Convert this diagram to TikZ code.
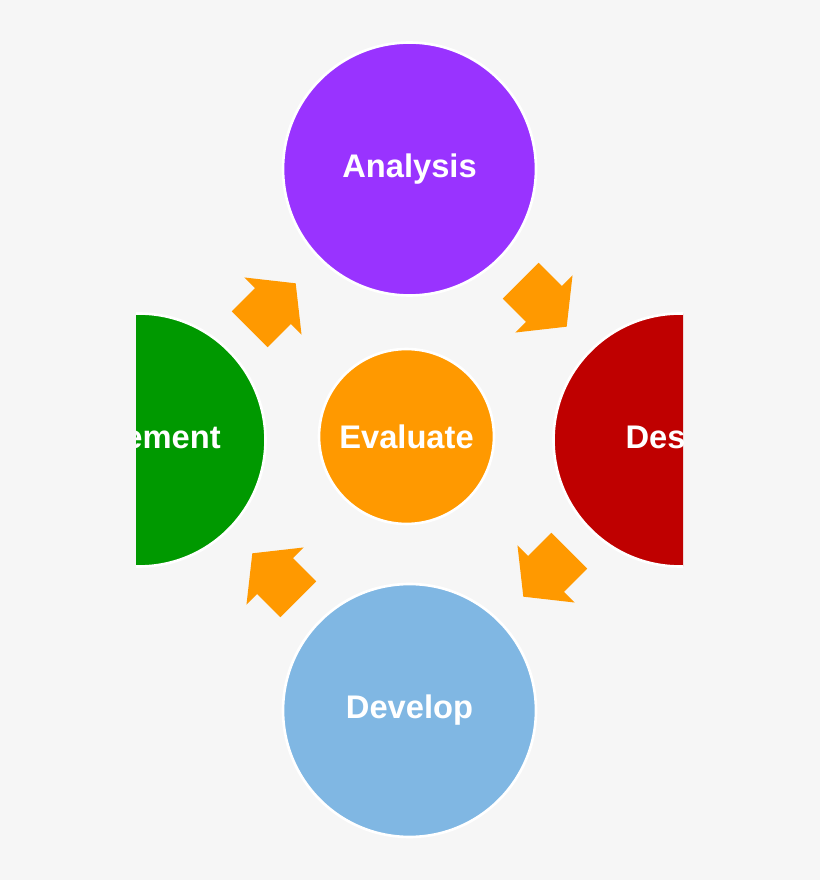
\documentclass[tikz,border=0pt]{standalone}
\usepackage{fontspec}
\setmainfont{Liberation Sans}
\usetikzlibrary{shapes.arrows}
\definecolor{fond}{HTML}{F6F6F6}
\definecolor{violet1}{HTML}{9933FF}
\definecolor{rouge}{HTML}{BF0000}
\definecolor{vert}{HTML}{009900}
\definecolor{bleu}{HTML}{80B7E3}
\definecolor{orangef}{HTML}{FF9900}
\begin{document}
\begin{tikzpicture}[x=0.02cm, y=0.02cm]
\tikzset{noeud/.style={draw=white, line width=1.5pt, circle, minimum size=5.06cm, inner sep=0pt, text=white, font=\fontsize{18.6}{22}\selectfont\bfseries}}
\tikzset{fleche/.style={fill=orangef, shape=single arrow, minimum height=1.3cm, minimum width=1.6cm, inner xsep=0pt, inner ysep=0.5cm, single arrow head extend=0.3cm, single arrow tip angle=103, anchor=tip}}
\fill[fond] (0,0) rectangle (820,880);
\begin{scope}
\clip (136,0) rectangle (683,880);
\node[noeud, fill=violet1] (An) at (409.5,711) {Analysis};
\node[noeud, fill=rouge] (De) at (680,440) {Design};
\node[noeud, fill=bleu] (Dv) at (409.5,169.5) {Develop};
\node[noeud, fill=vert] (Im) at (139,440) {Implement};
\end{scope}
\node[noeud, fill=orangef, minimum size=3.5cm] (Ev) at (406.5,443.5) {Evaluate};
\node[fleche, rotate=-45] (F1) at (567,553) {};
\node[fleche, rotate=-135] (F2) at (523,283) {};
\node[fleche, rotate=135] (F3) at (252,327) {};
\node[fleche, rotate=45] (F4) at (296,597) {};
\end{tikzpicture}
\end{document}
